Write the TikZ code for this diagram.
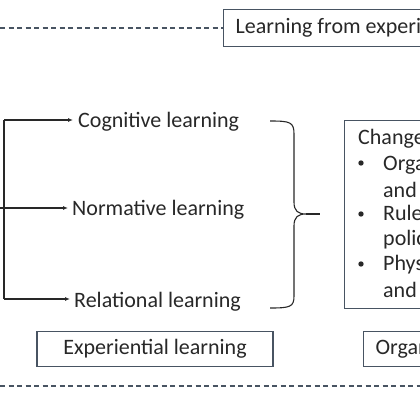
\documentclass[tikz,border=0pt]{standalone}
\usepackage{fontspec}
\setmainfont{Carlito}
\usetikzlibrary{arrows.meta}
\definecolor{ink}{RGB}{40, 40, 40}
\definecolor{frame}{RGB}{72, 84, 98}

\begin{document}
\begin{tikzpicture}[x=1pt, y=-1pt,
    every node/.style={font=\fontsize{22}{25}\selectfont, text=ink},
    box/.style={draw=frame, line width=1.2pt, inner sep=0pt, minimum height=35},
    link/.style={ink, line width=1.1pt},
    arr/.style={link, -{Latex[length=5pt, width=4pt]}},
    sep/.style={frame, line width=1.1pt, dash pattern=on 5pt off 3.5pt}]
  \useasboundingbox (0, 0) rectangle (420, 420);
  \clip (0, 0) rectangle (420, 420);

  \fill[white] (0, 0) rectangle (420, 420);

  % top banner
  \node[box, anchor=west, inner xsep=12pt, minimum height=37] (banner) at (223, 28) {Learning from experience};
  \coordinate (bannerL) at (0, 28);
  \draw[sep] (bannerL) -- (banner.west);

  % three kinds of learning
  \foreach \name/\x/\y/\txt in {cog/78/127/Cognitive learning, norm/72/215/Normative learning,
      rel/74/307/Relational learning} {
    \node[anchor=base west, inner sep=0pt] (\name) at (\x, \y) {\txt};
  }

  \coordinate (top) at (4, 120);
  \coordinate (bot) at (4, 299);
  \coordinate (stem) at (0, 208);
  \draw[link] (top) -- (bot);
  \draw[arr, shorten >=5pt] (top) -- (top -| cog.west);
  \draw[arr, shorten >=4pt] (stem) -- (stem -| norm.west);
  \draw[arr, shorten >=4pt] (bot) -- (bot -| rel.west);

  % brace
  \coordinate (tip) at (306, 214);
  \coordinate (out) at (320, 214);
  \draw[link] (270, 121) .. controls (290, 121) and (294, 122) .. (294, 134) -- (294, 202)
    .. controls (294, 211) and (298, 214) .. (tip)
    .. controls (298, 214) and (294, 217) .. (294, 226) -- (294, 296)
    .. controls (294, 307) and (290, 308) .. (270, 308);
  \draw[link] (tip) -- (out);

  % changes box
  \node[box, anchor=north west, minimum width=150, minimum height=188] (chg) at (344, 120) {};
  \node[anchor=base west, inner sep=0pt] (chghead) at (358, 144) {Changes};
  \foreach \name/\y/\txt in {orga/170/Organisational, orgb/197/and, rula/220/Rules,
      rulb/245/policies, phya/270/Physical, phyb/297/and} {
    \node[anchor=base west, inner sep=0pt] (\name) at (383, \y) {\txt};
  }
  \foreach \y in {163, 214, 264} {
    \fill[ink] (361, \y) circle (2.7pt);
  }

  % bottom labels
  \node[box, minimum width=236] (exp) at (155, 349) {Experiential learning};
  \node[box, anchor=west, inner xsep=12pt] (org) at (363, 349) {Organisational learning};

  \coordinate (sepL) at (0, 386);
  \coordinate (sepR) at (420, 386);
  \draw[sep] (sepL) -- (sepR);

\end{tikzpicture}
\end{document}
